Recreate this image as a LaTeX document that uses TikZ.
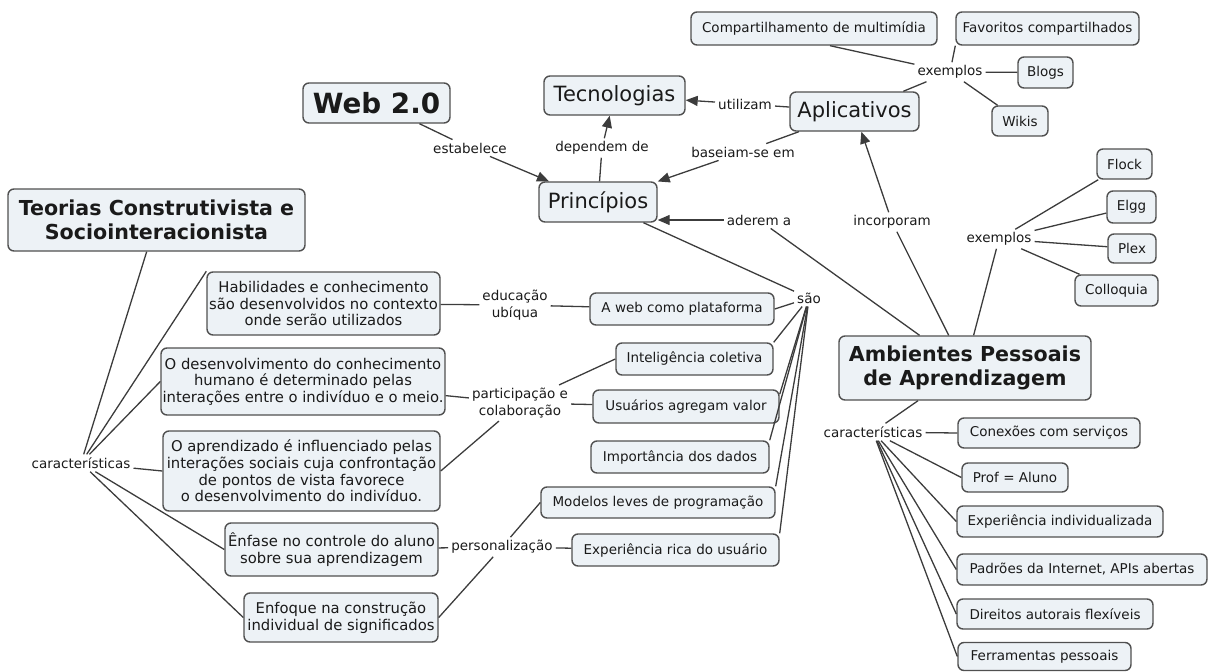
\documentclass[tikz,border=0pt]{standalone}
\usepackage{fontspec}
\setmainfont{DejaVu Sans}
\usetikzlibrary{arrows.meta,calc}
\definecolor{boxfill}{HTML}{EDF2F6}
\definecolor{boxdraw}{HTML}{505050}
\definecolor{linkline}{HTML}{3C3C3C}
\definecolor{ink}{HTML}{1A1A1A}
\newcommand\fsmall{\fontsize{13.5}{16.6}\selectfont}
\newcommand\fmid{\fontsize{14.8}{16.7}\selectfont}
\newcommand\fbig{\fontsize{21}{25}\selectfont}
\newcommand\fhead{\fontsize{20.6}{24}\selectfont\bfseries}
\newcommand\fweb{\fontsize{27.8}{32}\selectfont\bfseries}
\tikzset{
  box/.style={draw=boxdraw, fill=boxfill, line width=1.4pt, rounded corners=6pt,
    inner sep=0pt, align=center, text=ink, font=\fsmall},
  lnk/.style={inner sep=3pt, align=center, text=ink, font=\fsmall},
  conn/.style={draw=linkline, line width=1.3pt},
  arr/.style={conn, -{Triangle[length=12pt,width=10pt]}}
}
\begin{document}
\begin{tikzpicture}[x=1pt,y=-1pt]
\useasboundingbox (0,0) rectangle (1208,672);

% --- main concepts
\node[box, font=\fweb, minimum width=147pt, minimum height=40pt] (web) at (376.5,103) {Web 2.0};
\node[box, font=\fbig, minimum width=141pt, minimum height=39pt] (tec) at (614.5,95.5) {Tecnologias};
\node[box, font=\fbig, minimum width=118pt, minimum height=40pt] (princ) at (598,202) {Princípios};
\node[box, font=\fbig, minimum width=129pt, minimum height=39pt] (apl) at (854.5,111.5) {Aplicativos};
\node[box, font=\fhead, minimum width=297pt, minimum height=62pt] (teor) at (156.5,220) {Teorias Construtivista e\\Sociointeracionista};
\node[box, font=\fhead, minimum width=252pt, minimum height=64pt] (amb) at (965,368) {Ambientes Pessoais\\de Aprendizagem};

% --- application examples
\node[box, minimum width=246pt, minimum height=33pt] (comp) at (814,28.5) {Compartilhamento de multimídia};
\node[box, minimum width=183pt, minimum height=33pt] (fav) at (1047.5,28.5) {Favoritos compartilhados};
\node[box, minimum width=55pt, minimum height=31pt] (blogs) at (1045.5,72.5) {Blogs};
\node[box, minimum width=56pt, minimum height=30pt] (wikis) at (1020,121) {Wikis};

% --- PLE examples
\node[box, minimum width=55pt, minimum height=30pt] (flock) at (1124.5,164) {Flock};
\node[box, minimum width=49pt, minimum height=32pt] (elgg) at (1131.5,207) {Elgg};
\node[box, minimum width=48pt, minimum height=29pt] (plex) at (1132,248.5) {Plex};
\node[box, minimum width=83pt, minimum height=31pt] (colloq) at (1116.5,290.5) {Colloquia};

% --- PLE characteristics
\node[box, minimum width=182pt, minimum height=30pt] (conex) at (1049,433) {Conexões com serviços};
\node[box, minimum width=106pt, minimum height=29pt] (prof) at (1015,477.5) {Prof = Aluno};
\node[box, minimum width=206pt, minimum height=31pt] (expind) at (1060,521.5) {Experiência individualizada};
\node[box, minimum width=250pt, minimum height=31pt] (padr) at (1082,569.5) {Padrões da Internet, APIs abertas};
\node[box, minimum width=196pt, minimum height=30pt] (direit) at (1055,614) {Direitos autorais flexíveis};
\node[box, minimum width=173pt, minimum height=28pt] (ferr) at (1044.5,656.5) {Ferramentas pessoais};

% --- Web 2.0 principles
\node[box, minimum width=184pt, minimum height=32pt] (aweb) at (682,309) {A web como plataforma};
\node[box, minimum width=157pt, minimum height=32pt] (intel) at (694.5,359) {Inteligência coletiva};
\node[box, minimum width=186pt, minimum height=33pt] (usu) at (686,406.5) {Usuários agregam valor};
\node[box, minimum width=178pt, minimum height=32pt] (impo) at (680,457) {Importância dos dados};
\node[box, minimum width=234pt, minimum height=31pt] (model) at (658,502.5) {Modelos leves de programação};
\node[box, minimum width=207pt, minimum height=32pt] (exprica) at (675.5,550) {Experiência rica do usuário};

% --- learning theory characteristics
\node[box, font=\fmid, minimum width=233pt, minimum height=63pt] (hab) at (323.5,303.5) {Habilidades e conhecimento\\são desenvolvidos no contexto\\onde serão utilizados};
\node[box, font=\fmid, minimum width=284pt, minimum height=67pt] (odes) at (303,381.5) {O desenvolvimento do conhecimento\\humano é determinado pelas\\interações entre o indivíduo e o meio.};
\node[box, font=\fmid, minimum width=277pt, minimum height=80pt] (oapr) at (301.5,471) {O aprendizado é influenciado pelas\\interações sociais cuja confrontação\\de pontos de vista favorece\\o desenvolvimento do indivíduo.};
\node[box, font=\fmid, minimum width=213pt, minimum height=53pt] (enf) at (331.5,549.5) {Ênfase no controle do aluno\\sobre sua aprendizagem};
\node[box, font=\fmid, minimum width=194pt, minimum height=49pt] (enfq) at (341,617.5) {Enfoque na construção\\individual de significados};

% --- linking phrases
\node[lnk] (est) at (470,148) {estabelece};
\node[lnk] (dep) at (602,148) {dependem de};
\node[lnk] (bas) at (743,152) {baseiam-se em};
\node[lnk] (util) at (745,104) {utilizam};
\node[lnk] (ex1) at (950,72) {exemplos};
\node[lnk] (aderem) at (759,220) {aderem a};
\node[lnk] (incorp) at (892,222) {incorporam};
\node[lnk] (ex2) at (999,239) {exemplos};
\node[lnk] (carR) at (873,432) {características};
\node[lnk] (carL) at (81,463) {características};
\node[lnk] (sao) at (809,298) {são};
\node[lnk] (edu) at (515,305) {educação\\ubíqua};
\node[lnk] (part) at (520,403) {participação e\\colaboração};
\node[lnk] (pers) at (502,547) {personalização};

% --- connectors between the main concepts
\draw[conn] (web) -- (est);
\draw[arr] (est) -- (princ);
\draw[conn] (princ) -- (dep);
\draw[arr] (dep) -- (tec);
\draw[conn] (apl) -- (bas);
\draw[arr] (bas) -- (princ);
\draw[conn] (apl) -- (util);
\draw[arr] (util) -- (tec);
\draw[conn] (amb) -- (incorp);
\draw[arr] (incorp) -- (apl);
\draw[conn] (amb) -- (aderem);
\draw[arr] (aderem) -- (princ.east |- aderem);

% --- examples
\draw[conn] (apl) -- (ex1);
\draw[conn] (ex1) -- ($(comp.south)+(16,0)$);
\draw[conn] (ex1) -- (fav.south west);
\draw[conn] (ex1) -- (blogs);
\draw[conn] (ex1) -- (wikis);
\draw[conn] (amb) -- (ex2);
\draw[conn] (ex2) -- (flock);
\draw[conn] (ex2) -- (elgg);
\draw[conn] (ex2) -- (plex);
\draw[conn] (ex2) -- (colloq);

% --- PLE characteristics
\draw[conn] (amb) -- (carR);
\foreach \t in {conex,prof,expind,padr,direit,ferr}
  \draw[conn] (carR) -- (\t.west);

% --- principles
\draw[conn] (princ) -- (sao);
\draw[conn] (sao) -- (aweb.east);
\draw[conn] (sao) -- (intel.north east);
\draw[conn] (sao) -- ($(usu.north east)+(0,5)$);
\draw[conn] (sao) -- (impo.north east);
\draw[conn] (sao) -- (model.north east);
\draw[conn] (sao) -- (exprica.north east);

% --- grouping phrases
\draw[conn] (hab) -- (edu);
\draw[conn] (edu) -- (aweb);
\draw[conn] (odes) -- (part);
\draw[conn] (part) -- (intel.west);
\draw[conn] (part) -- (usu);
\draw[conn] (part) -- (oapr.east);
\draw[conn] (enf) -- (pers);
\draw[conn] (pers) -- (model.west);
\draw[conn] (pers) -- (exprica);
\draw[conn] (pers) -- (enfq.east);

% --- learning theory characteristics
\draw[conn] (teor) -- (carL);
\draw[conn] (carL) -- (hab.north west);
\foreach \t in {odes,oapr,enf,enfq}
  \draw[conn] (carL) -- (\t.west);
\end{tikzpicture}
\end{document}
